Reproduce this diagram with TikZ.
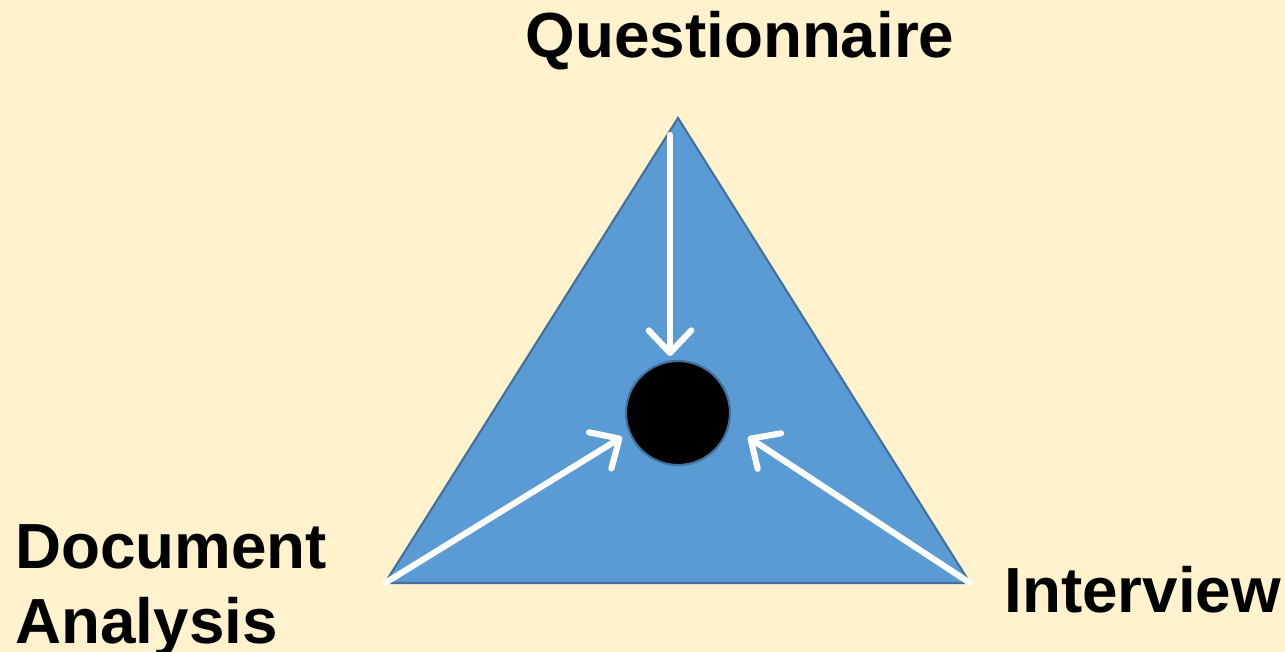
\documentclass[tikz,border=0pt]{standalone}
\usepackage{fontspec}
\setmainfont{Liberation Sans}
\usetikzlibrary{arrows.meta,positioning}
\definecolor{paper}{HTML}{FFF2CC}
\definecolor{triblue}{HTML}{5B9BD5}
\definecolor{triedge}{HTML}{41719C}
\tikzset{
  method/.style={font=\bfseries\fontsize{36.3}{40}\selectfont,text=black,inner sep=0pt},
  tri/.style={fill=triblue,draw=triedge,line width=1.2pt,line join=miter},
  focus/.style={circle,fill=black,draw=triedge,line width=1.2pt,minimum size=2.08cm,inner sep=0pt},
  flow/.style={white,line width=3.5pt,line cap=round,-{Straight Barb[length=4.5mm,width=8.5mm,round]}}
}
\begin{document}
\begin{tikzpicture}[x=0.02cm,y=-0.02cm]
  \fill[paper] (0,0) rectangle (1285,652);
  \useasboundingbox (0,0) rectangle (1285,652);
  \coordinate (apex) at (678,118);
  \coordinate (left) at (385,583);
  \coordinate (right) at (970,583);
  \draw[tri] (apex)--(right)--(left)--cycle;
  \node[focus] (core) at (678,413) {};
  \coordinate (top) at (670,135);
  \coordinate (topend) at (670,356);
  \coordinate (leftend) at (622,437);
  \coordinate (rightend) at (748,437);
  \draw[flow] (top)--(topend);
  \draw[flow] (left)--(leftend);
  \draw[flow] (right)--(rightend);
  \node[method,anchor=base] (quest) at (740,58) {Questionnaire};
  \node[method,anchor=base west] (doc) at (15,568) {Document};
  \node[method,anchor=base west] (ana) at (15,643) {Analysis};
  \node[method,anchor=base west] (inter) at (1004,612) {Interview};
\end{tikzpicture}
\end{document}
